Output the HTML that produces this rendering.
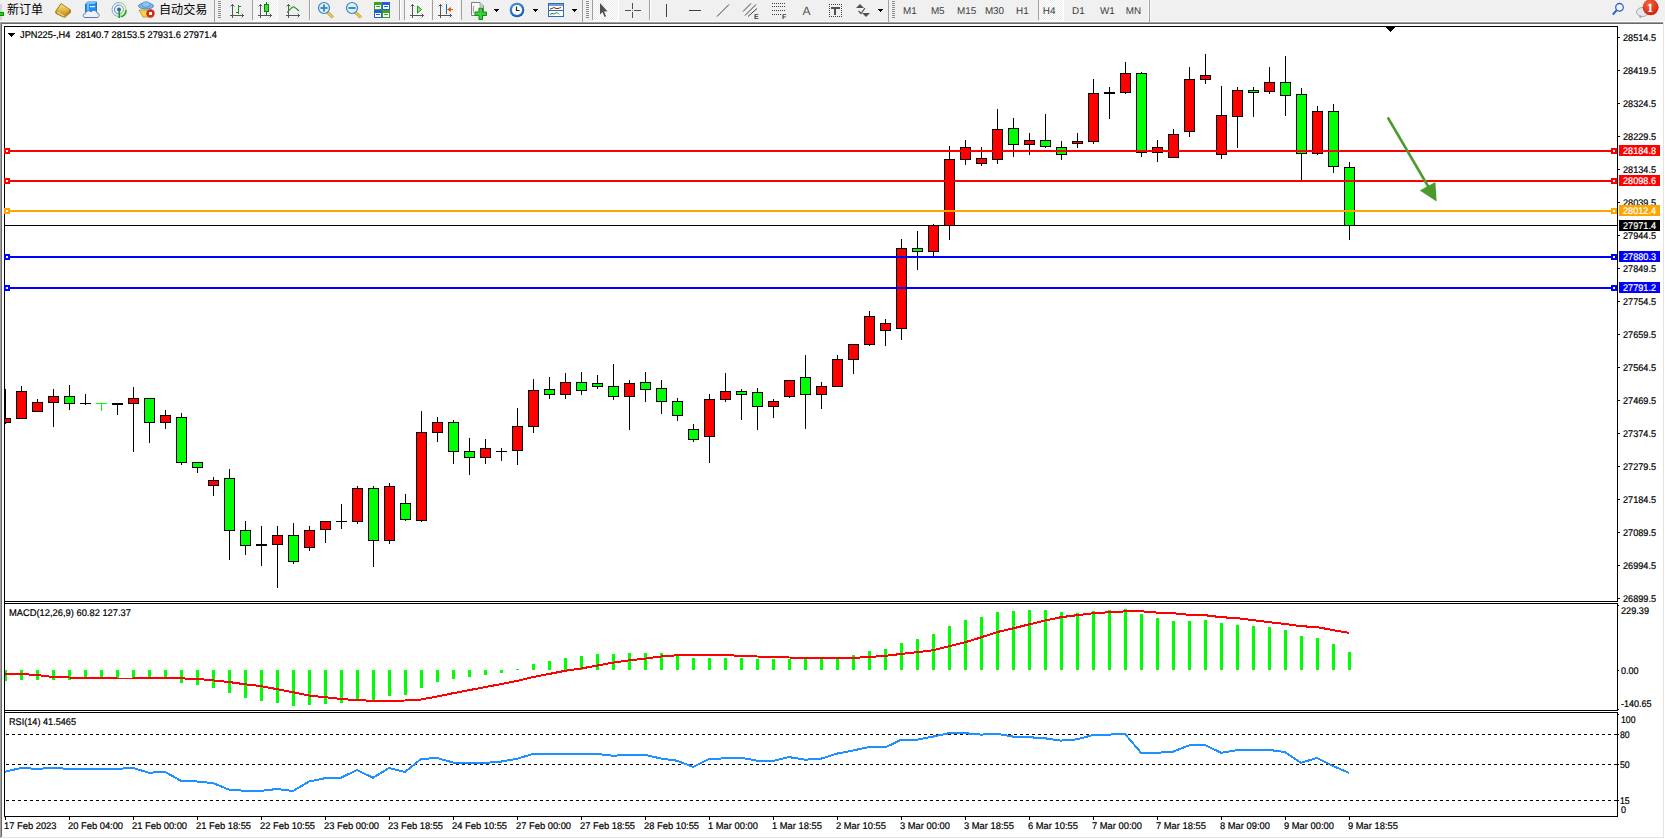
<!DOCTYPE html>
<html><head><meta charset="utf-8"><title>JPN225-,H4</title>
<style>html,body{margin:0;padding:0;background:#f0f0f0;overflow:hidden}svg{display:block}</style>
</head><body>
<svg width="1665" height="839" viewBox="0 0 1665 839" shape-rendering="crispEdges" text-rendering="geometricPrecision">
<rect x="0" y="0" width="1665" height="21" fill="#f0f0f0"/>
<rect x="0" y="21" width="1665" height="1" fill="#fafafa"/>
<rect x="0" y="22" width="1664" height="1" fill="#a0a0a0"/>
<rect x="0" y="23" width="1664" height="1" fill="#696969"/>
<rect x="0" y="22" width="1" height="815" fill="#a0a0a0"/>
<rect x="1" y="23" width="1" height="814" fill="#696969"/>
<rect x="2" y="24" width="1661" height="813" fill="#ffffff"/>
<rect x="1663" y="22" width="1" height="816" fill="#e3e3e3"/>
<rect x="0" y="837" width="1664" height="1" fill="#e3e3e3"/>
<rect x="1664" y="22" width="1" height="817" fill="#ffffff"/>
<rect x="0" y="838" width="1665" height="1" fill="#ffffff"/>
<rect x="0" y="837" width="1" height="1" fill="#a0a0a0"/>
<rect x="1" y="837" width="1" height="1" fill="#f4f4f4"/>
<rect x="4" y="26" width="1" height="791" fill="#000"/>
<rect x="1617" y="26" width="1" height="576" fill="#000"/>
<rect x="1617" y="603" width="1" height="108" fill="#000"/>
<rect x="1617" y="712" width="1" height="105" fill="#000"/>
<rect x="4" y="26" width="1614" height="1" fill="#000"/>
<rect x="4" y="601" width="1614" height="1" fill="#000"/>
<rect x="4" y="603" width="1614" height="1" fill="#000"/>
<rect x="4" y="710" width="1614" height="1" fill="#000"/>
<rect x="4" y="712" width="1614" height="1" fill="#000"/>
<rect x="4" y="816" width="1614" height="1" fill="#000"/>
<rect x="1618" y="37" width="2" height="1" fill="#000"/>
<text x="1623" y="41" font-size="9.7px" fill="#000" font-family="'Liberation Sans', Arial, sans-serif" stroke="#000" stroke-width="0.2" textLength="33.00" lengthAdjust="spacingAndGlyphs">28514.5</text>
<rect x="1618" y="70" width="2" height="1" fill="#000"/>
<text x="1623" y="74" font-size="9.7px" fill="#000" font-family="'Liberation Sans', Arial, sans-serif" stroke="#000" stroke-width="0.2" textLength="33.00" lengthAdjust="spacingAndGlyphs">28419.5</text>
<rect x="1618" y="103" width="2" height="1" fill="#000"/>
<text x="1623" y="107" font-size="9.7px" fill="#000" font-family="'Liberation Sans', Arial, sans-serif" stroke="#000" stroke-width="0.2" textLength="33.00" lengthAdjust="spacingAndGlyphs">28324.5</text>
<rect x="1618" y="136" width="2" height="1" fill="#000"/>
<text x="1623" y="140" font-size="9.7px" fill="#000" font-family="'Liberation Sans', Arial, sans-serif" stroke="#000" stroke-width="0.2" textLength="33.00" lengthAdjust="spacingAndGlyphs">28229.5</text>
<rect x="1618" y="169" width="2" height="1" fill="#000"/>
<text x="1623" y="173" font-size="9.7px" fill="#000" font-family="'Liberation Sans', Arial, sans-serif" stroke="#000" stroke-width="0.2" textLength="33.00" lengthAdjust="spacingAndGlyphs">28134.5</text>
<rect x="1618" y="202" width="2" height="1" fill="#000"/>
<text x="1623" y="206" font-size="9.7px" fill="#000" font-family="'Liberation Sans', Arial, sans-serif" stroke="#000" stroke-width="0.2" textLength="33.00" lengthAdjust="spacingAndGlyphs">28039.5</text>
<rect x="1618" y="235" width="2" height="1" fill="#000"/>
<text x="1623" y="239" font-size="9.7px" fill="#000" font-family="'Liberation Sans', Arial, sans-serif" stroke="#000" stroke-width="0.2" textLength="33.00" lengthAdjust="spacingAndGlyphs">27944.5</text>
<rect x="1618" y="268" width="2" height="1" fill="#000"/>
<text x="1623" y="272" font-size="9.7px" fill="#000" font-family="'Liberation Sans', Arial, sans-serif" stroke="#000" stroke-width="0.2" textLength="33.00" lengthAdjust="spacingAndGlyphs">27849.5</text>
<rect x="1618" y="301" width="2" height="1" fill="#000"/>
<text x="1623" y="305" font-size="9.7px" fill="#000" font-family="'Liberation Sans', Arial, sans-serif" stroke="#000" stroke-width="0.2" textLength="33.00" lengthAdjust="spacingAndGlyphs">27754.5</text>
<rect x="1618" y="334" width="2" height="1" fill="#000"/>
<text x="1623" y="338" font-size="9.7px" fill="#000" font-family="'Liberation Sans', Arial, sans-serif" stroke="#000" stroke-width="0.2" textLength="33.00" lengthAdjust="spacingAndGlyphs">27659.5</text>
<rect x="1618" y="367" width="2" height="1" fill="#000"/>
<text x="1623" y="371" font-size="9.7px" fill="#000" font-family="'Liberation Sans', Arial, sans-serif" stroke="#000" stroke-width="0.2" textLength="33.00" lengthAdjust="spacingAndGlyphs">27564.5</text>
<rect x="1618" y="400" width="2" height="1" fill="#000"/>
<text x="1623" y="404" font-size="9.7px" fill="#000" font-family="'Liberation Sans', Arial, sans-serif" stroke="#000" stroke-width="0.2" textLength="33.00" lengthAdjust="spacingAndGlyphs">27469.5</text>
<rect x="1618" y="433" width="2" height="1" fill="#000"/>
<text x="1623" y="437" font-size="9.7px" fill="#000" font-family="'Liberation Sans', Arial, sans-serif" stroke="#000" stroke-width="0.2" textLength="33.00" lengthAdjust="spacingAndGlyphs">27374.5</text>
<rect x="1618" y="466" width="2" height="1" fill="#000"/>
<text x="1623" y="470" font-size="9.7px" fill="#000" font-family="'Liberation Sans', Arial, sans-serif" stroke="#000" stroke-width="0.2" textLength="33.00" lengthAdjust="spacingAndGlyphs">27279.5</text>
<rect x="1618" y="499" width="2" height="1" fill="#000"/>
<text x="1623" y="503" font-size="9.7px" fill="#000" font-family="'Liberation Sans', Arial, sans-serif" stroke="#000" stroke-width="0.2" textLength="33.00" lengthAdjust="spacingAndGlyphs">27184.5</text>
<rect x="1618" y="532" width="2" height="1" fill="#000"/>
<text x="1623" y="536" font-size="9.7px" fill="#000" font-family="'Liberation Sans', Arial, sans-serif" stroke="#000" stroke-width="0.2" textLength="33.00" lengthAdjust="spacingAndGlyphs">27089.5</text>
<rect x="1618" y="565" width="2" height="1" fill="#000"/>
<text x="1623" y="569" font-size="9.7px" fill="#000" font-family="'Liberation Sans', Arial, sans-serif" stroke="#000" stroke-width="0.2" textLength="33.00" lengthAdjust="spacingAndGlyphs">26994.5</text>
<rect x="1618" y="598" width="2" height="1" fill="#000"/>
<text x="1623" y="602" font-size="9.7px" fill="#000" font-family="'Liberation Sans', Arial, sans-serif" stroke="#000" stroke-width="0.2" textLength="33.00" lengthAdjust="spacingAndGlyphs">26899.5</text>
<g>
<rect x="5" y="389" width="1" height="29" fill="#000"/>
<rect x="5" y="423" width="1" height="1" fill="#000"/>
<rect x="5" y="418" width="6" height="5" fill="#000"/>
<rect x="5" y="419" width="5" height="3" fill="#ff0000"/>
<rect x="21" y="386" width="1" height="5" fill="#000"/>
<rect x="16" y="391" width="11" height="28" fill="#000"/>
<rect x="17" y="392" width="9" height="26" fill="#ff0000"/>
<rect x="37" y="399" width="1" height="3" fill="#000"/>
<rect x="32" y="402" width="11" height="10" fill="#000"/>
<rect x="33" y="403" width="9" height="8" fill="#ff0000"/>
<rect x="53" y="389" width="1" height="7" fill="#000"/>
<rect x="53" y="403" width="1" height="24" fill="#000"/>
<rect x="48" y="396" width="11" height="7" fill="#000"/>
<rect x="49" y="397" width="9" height="5" fill="#ff0000"/>
<rect x="69" y="385" width="1" height="11" fill="#000"/>
<rect x="69" y="404" width="1" height="6" fill="#000"/>
<rect x="64" y="396" width="11" height="8" fill="#000"/>
<rect x="65" y="397" width="9" height="6" fill="#00ff00"/>
<rect x="85" y="394" width="1" height="11" fill="#000"/>
<rect x="80" y="403" width="11" height="1" fill="#000"/>
<rect x="101" y="403" width="1" height="8" fill="#00ff00"/>
<rect x="96" y="403" width="11" height="1" fill="#00ff00"/>
<rect x="117" y="403" width="1" height="12" fill="#000"/>
<rect x="112" y="403" width="11" height="2" fill="#000"/>
<rect x="133" y="387" width="1" height="11" fill="#000"/>
<rect x="133" y="404" width="1" height="48" fill="#000"/>
<rect x="128" y="398" width="11" height="6" fill="#000"/>
<rect x="129" y="399" width="9" height="4" fill="#ff0000"/>
<rect x="149" y="423" width="1" height="20" fill="#000"/>
<rect x="144" y="398" width="11" height="25" fill="#000"/>
<rect x="145" y="399" width="9" height="23" fill="#00ff00"/>
<rect x="165" y="410" width="1" height="5" fill="#000"/>
<rect x="165" y="423" width="1" height="6" fill="#000"/>
<rect x="160" y="415" width="11" height="8" fill="#000"/>
<rect x="161" y="416" width="9" height="6" fill="#ff0000"/>
<rect x="181" y="413" width="1" height="4" fill="#000"/>
<rect x="181" y="463" width="1" height="2" fill="#000"/>
<rect x="176" y="417" width="11" height="46" fill="#000"/>
<rect x="177" y="418" width="9" height="44" fill="#00ff00"/>
<rect x="197" y="468" width="1" height="5" fill="#000"/>
<rect x="192" y="462" width="11" height="6" fill="#000"/>
<rect x="193" y="463" width="9" height="4" fill="#00ff00"/>
<rect x="213" y="477" width="1" height="3" fill="#000"/>
<rect x="213" y="486" width="1" height="10" fill="#000"/>
<rect x="208" y="480" width="11" height="6" fill="#000"/>
<rect x="209" y="481" width="9" height="4" fill="#ff0000"/>
<rect x="229" y="469" width="1" height="9" fill="#000"/>
<rect x="229" y="531" width="1" height="29" fill="#000"/>
<rect x="224" y="478" width="11" height="53" fill="#000"/>
<rect x="225" y="479" width="9" height="51" fill="#00ff00"/>
<rect x="245" y="521" width="1" height="9" fill="#000"/>
<rect x="245" y="546" width="1" height="9" fill="#000"/>
<rect x="240" y="530" width="11" height="16" fill="#000"/>
<rect x="241" y="531" width="9" height="14" fill="#00ff00"/>
<rect x="261" y="526" width="1" height="40" fill="#000"/>
<rect x="256" y="544" width="11" height="2" fill="#000"/>
<rect x="277" y="526" width="1" height="9" fill="#000"/>
<rect x="277" y="545" width="1" height="43" fill="#000"/>
<rect x="272" y="535" width="11" height="10" fill="#000"/>
<rect x="273" y="536" width="9" height="8" fill="#ff0000"/>
<rect x="293" y="523" width="1" height="12" fill="#000"/>
<rect x="293" y="562" width="1" height="2" fill="#000"/>
<rect x="288" y="535" width="11" height="27" fill="#000"/>
<rect x="289" y="536" width="9" height="25" fill="#00ff00"/>
<rect x="309" y="526" width="1" height="4" fill="#000"/>
<rect x="309" y="548" width="1" height="3" fill="#000"/>
<rect x="304" y="530" width="11" height="18" fill="#000"/>
<rect x="305" y="531" width="9" height="16" fill="#ff0000"/>
<rect x="325" y="530" width="1" height="13" fill="#000"/>
<rect x="320" y="521" width="11" height="9" fill="#000"/>
<rect x="321" y="522" width="9" height="7" fill="#ff0000"/>
<rect x="341" y="504" width="1" height="25" fill="#000"/>
<rect x="336" y="521" width="11" height="1" fill="#000"/>
<rect x="357" y="486" width="1" height="2" fill="#000"/>
<rect x="357" y="522" width="1" height="2" fill="#000"/>
<rect x="352" y="488" width="11" height="34" fill="#000"/>
<rect x="353" y="489" width="9" height="32" fill="#ff0000"/>
<rect x="373" y="486" width="1" height="2" fill="#000"/>
<rect x="373" y="541" width="1" height="26" fill="#000"/>
<rect x="368" y="488" width="11" height="53" fill="#000"/>
<rect x="369" y="489" width="9" height="51" fill="#00ff00"/>
<rect x="389" y="483" width="1" height="3" fill="#000"/>
<rect x="389" y="541" width="1" height="3" fill="#000"/>
<rect x="384" y="486" width="11" height="55" fill="#000"/>
<rect x="385" y="487" width="9" height="53" fill="#ff0000"/>
<rect x="405" y="494" width="1" height="9" fill="#000"/>
<rect x="405" y="520" width="1" height="1" fill="#000"/>
<rect x="400" y="503" width="11" height="17" fill="#000"/>
<rect x="401" y="504" width="9" height="15" fill="#00ff00"/>
<rect x="421" y="411" width="1" height="21" fill="#000"/>
<rect x="421" y="521" width="1" height="1" fill="#000"/>
<rect x="416" y="432" width="11" height="89" fill="#000"/>
<rect x="417" y="433" width="9" height="87" fill="#ff0000"/>
<rect x="437" y="417" width="1" height="5" fill="#000"/>
<rect x="437" y="433" width="1" height="9" fill="#000"/>
<rect x="432" y="422" width="11" height="11" fill="#000"/>
<rect x="433" y="423" width="9" height="9" fill="#ff0000"/>
<rect x="453" y="420" width="1" height="2" fill="#000"/>
<rect x="453" y="452" width="1" height="12" fill="#000"/>
<rect x="448" y="422" width="11" height="30" fill="#000"/>
<rect x="449" y="423" width="9" height="28" fill="#00ff00"/>
<rect x="469" y="438" width="1" height="13" fill="#000"/>
<rect x="469" y="458" width="1" height="17" fill="#000"/>
<rect x="464" y="451" width="11" height="7" fill="#000"/>
<rect x="465" y="452" width="9" height="5" fill="#00ff00"/>
<rect x="485" y="439" width="1" height="9" fill="#000"/>
<rect x="485" y="458" width="1" height="6" fill="#000"/>
<rect x="480" y="448" width="11" height="10" fill="#000"/>
<rect x="481" y="449" width="9" height="8" fill="#ff0000"/>
<rect x="501" y="448" width="1" height="13" fill="#000"/>
<rect x="496" y="451" width="11" height="1" fill="#000"/>
<rect x="517" y="408" width="1" height="18" fill="#000"/>
<rect x="517" y="451" width="1" height="14" fill="#000"/>
<rect x="512" y="426" width="11" height="25" fill="#000"/>
<rect x="513" y="427" width="9" height="23" fill="#ff0000"/>
<rect x="533" y="379" width="1" height="11" fill="#000"/>
<rect x="533" y="427" width="1" height="6" fill="#000"/>
<rect x="528" y="390" width="11" height="37" fill="#000"/>
<rect x="529" y="391" width="9" height="35" fill="#ff0000"/>
<rect x="549" y="377" width="1" height="12" fill="#000"/>
<rect x="549" y="395" width="1" height="4" fill="#000"/>
<rect x="544" y="389" width="11" height="6" fill="#000"/>
<rect x="545" y="390" width="9" height="4" fill="#00ff00"/>
<rect x="565" y="373" width="1" height="9" fill="#000"/>
<rect x="565" y="395" width="1" height="4" fill="#000"/>
<rect x="560" y="382" width="11" height="13" fill="#000"/>
<rect x="561" y="383" width="9" height="11" fill="#ff0000"/>
<rect x="581" y="372" width="1" height="10" fill="#000"/>
<rect x="581" y="391" width="1" height="4" fill="#000"/>
<rect x="576" y="382" width="11" height="9" fill="#000"/>
<rect x="577" y="383" width="9" height="7" fill="#00ff00"/>
<rect x="597" y="375" width="1" height="8" fill="#000"/>
<rect x="597" y="387" width="1" height="2" fill="#000"/>
<rect x="592" y="383" width="11" height="4" fill="#000"/>
<rect x="593" y="384" width="9" height="2" fill="#00ff00"/>
<rect x="613" y="364" width="1" height="22" fill="#000"/>
<rect x="613" y="397" width="1" height="3" fill="#000"/>
<rect x="608" y="386" width="11" height="11" fill="#000"/>
<rect x="609" y="387" width="9" height="9" fill="#00ff00"/>
<rect x="629" y="380" width="1" height="3" fill="#000"/>
<rect x="629" y="397" width="1" height="33" fill="#000"/>
<rect x="624" y="383" width="11" height="14" fill="#000"/>
<rect x="625" y="384" width="9" height="12" fill="#ff0000"/>
<rect x="645" y="372" width="1" height="10" fill="#000"/>
<rect x="645" y="390" width="1" height="12" fill="#000"/>
<rect x="640" y="382" width="11" height="8" fill="#000"/>
<rect x="641" y="383" width="9" height="6" fill="#00ff00"/>
<rect x="661" y="380" width="1" height="8" fill="#000"/>
<rect x="661" y="402" width="1" height="12" fill="#000"/>
<rect x="656" y="388" width="11" height="14" fill="#000"/>
<rect x="657" y="389" width="9" height="12" fill="#00ff00"/>
<rect x="677" y="398" width="1" height="3" fill="#000"/>
<rect x="677" y="416" width="1" height="5" fill="#000"/>
<rect x="672" y="401" width="11" height="15" fill="#000"/>
<rect x="673" y="402" width="9" height="13" fill="#00ff00"/>
<rect x="693" y="424" width="1" height="5" fill="#000"/>
<rect x="693" y="440" width="1" height="2" fill="#000"/>
<rect x="688" y="429" width="11" height="11" fill="#000"/>
<rect x="689" y="430" width="9" height="9" fill="#00ff00"/>
<rect x="709" y="394" width="1" height="5" fill="#000"/>
<rect x="709" y="437" width="1" height="26" fill="#000"/>
<rect x="704" y="399" width="11" height="38" fill="#000"/>
<rect x="705" y="400" width="9" height="36" fill="#ff0000"/>
<rect x="725" y="373" width="1" height="18" fill="#000"/>
<rect x="725" y="400" width="1" height="2" fill="#000"/>
<rect x="720" y="391" width="11" height="9" fill="#000"/>
<rect x="721" y="392" width="9" height="7" fill="#ff0000"/>
<rect x="741" y="389" width="1" height="2" fill="#000"/>
<rect x="741" y="395" width="1" height="25" fill="#000"/>
<rect x="736" y="391" width="11" height="4" fill="#000"/>
<rect x="737" y="392" width="9" height="2" fill="#00ff00"/>
<rect x="757" y="388" width="1" height="4" fill="#000"/>
<rect x="757" y="407" width="1" height="23" fill="#000"/>
<rect x="752" y="392" width="11" height="15" fill="#000"/>
<rect x="753" y="393" width="9" height="13" fill="#00ff00"/>
<rect x="773" y="399" width="1" height="2" fill="#000"/>
<rect x="773" y="407" width="1" height="11" fill="#000"/>
<rect x="768" y="401" width="11" height="6" fill="#000"/>
<rect x="769" y="402" width="9" height="4" fill="#ff0000"/>
<rect x="789" y="397" width="1" height="1" fill="#000"/>
<rect x="784" y="380" width="11" height="17" fill="#000"/>
<rect x="785" y="381" width="9" height="15" fill="#ff0000"/>
<rect x="805" y="355" width="1" height="22" fill="#000"/>
<rect x="805" y="395" width="1" height="34" fill="#000"/>
<rect x="800" y="377" width="11" height="18" fill="#000"/>
<rect x="801" y="378" width="9" height="16" fill="#00ff00"/>
<rect x="821" y="382" width="1" height="4" fill="#000"/>
<rect x="821" y="395" width="1" height="14" fill="#000"/>
<rect x="816" y="386" width="11" height="9" fill="#000"/>
<rect x="817" y="387" width="9" height="7" fill="#ff0000"/>
<rect x="837" y="355" width="1" height="4" fill="#000"/>
<rect x="832" y="359" width="11" height="28" fill="#000"/>
<rect x="833" y="360" width="9" height="26" fill="#ff0000"/>
<rect x="853" y="360" width="1" height="14" fill="#000"/>
<rect x="848" y="344" width="11" height="16" fill="#000"/>
<rect x="849" y="345" width="9" height="14" fill="#ff0000"/>
<rect x="869" y="311" width="1" height="5" fill="#000"/>
<rect x="869" y="345" width="1" height="1" fill="#000"/>
<rect x="864" y="316" width="11" height="29" fill="#000"/>
<rect x="865" y="317" width="9" height="27" fill="#ff0000"/>
<rect x="885" y="319" width="1" height="4" fill="#000"/>
<rect x="885" y="331" width="1" height="15" fill="#000"/>
<rect x="880" y="323" width="11" height="8" fill="#000"/>
<rect x="881" y="324" width="9" height="6" fill="#ff0000"/>
<rect x="901" y="239" width="1" height="9" fill="#000"/>
<rect x="901" y="329" width="1" height="11" fill="#000"/>
<rect x="896" y="248" width="11" height="81" fill="#000"/>
<rect x="897" y="249" width="9" height="79" fill="#ff0000"/>
<rect x="917" y="231" width="1" height="17" fill="#000"/>
<rect x="917" y="252" width="1" height="18" fill="#000"/>
<rect x="912" y="248" width="11" height="4" fill="#000"/>
<rect x="913" y="249" width="9" height="2" fill="#00ff00"/>
<rect x="933" y="224" width="1" height="1" fill="#000"/>
<rect x="933" y="252" width="1" height="4" fill="#000"/>
<rect x="928" y="225" width="11" height="27" fill="#000"/>
<rect x="929" y="226" width="9" height="25" fill="#ff0000"/>
<rect x="949" y="146" width="1" height="13" fill="#000"/>
<rect x="949" y="226" width="1" height="14" fill="#000"/>
<rect x="944" y="159" width="11" height="67" fill="#000"/>
<rect x="945" y="160" width="9" height="65" fill="#ff0000"/>
<rect x="965" y="140" width="1" height="7" fill="#000"/>
<rect x="965" y="160" width="1" height="5" fill="#000"/>
<rect x="960" y="147" width="11" height="13" fill="#000"/>
<rect x="961" y="148" width="9" height="11" fill="#ff0000"/>
<rect x="981" y="147" width="1" height="11" fill="#000"/>
<rect x="981" y="164" width="1" height="2" fill="#000"/>
<rect x="976" y="158" width="11" height="6" fill="#000"/>
<rect x="977" y="159" width="9" height="4" fill="#ff0000"/>
<rect x="997" y="109" width="1" height="20" fill="#000"/>
<rect x="997" y="160" width="1" height="4" fill="#000"/>
<rect x="992" y="129" width="11" height="31" fill="#000"/>
<rect x="993" y="130" width="9" height="29" fill="#ff0000"/>
<rect x="1013" y="118" width="1" height="10" fill="#000"/>
<rect x="1013" y="145" width="1" height="12" fill="#000"/>
<rect x="1008" y="128" width="11" height="17" fill="#000"/>
<rect x="1009" y="129" width="9" height="15" fill="#00ff00"/>
<rect x="1029" y="133" width="1" height="7" fill="#000"/>
<rect x="1029" y="145" width="1" height="10" fill="#000"/>
<rect x="1024" y="140" width="11" height="5" fill="#000"/>
<rect x="1025" y="141" width="9" height="3" fill="#ff0000"/>
<rect x="1045" y="114" width="1" height="26" fill="#000"/>
<rect x="1045" y="147" width="1" height="1" fill="#000"/>
<rect x="1040" y="140" width="11" height="7" fill="#000"/>
<rect x="1041" y="141" width="9" height="5" fill="#00ff00"/>
<rect x="1061" y="141" width="1" height="6" fill="#000"/>
<rect x="1061" y="155" width="1" height="5" fill="#000"/>
<rect x="1056" y="147" width="11" height="8" fill="#000"/>
<rect x="1057" y="148" width="9" height="6" fill="#00ff00"/>
<rect x="1077" y="133" width="1" height="8" fill="#000"/>
<rect x="1077" y="144" width="1" height="4" fill="#000"/>
<rect x="1072" y="141" width="11" height="3" fill="#000"/>
<rect x="1073" y="142" width="9" height="1" fill="#ff0000"/>
<rect x="1093" y="79" width="1" height="14" fill="#000"/>
<rect x="1093" y="142" width="1" height="2" fill="#000"/>
<rect x="1088" y="93" width="11" height="49" fill="#000"/>
<rect x="1089" y="94" width="9" height="47" fill="#ff0000"/>
<rect x="1109" y="87" width="1" height="32" fill="#000"/>
<rect x="1104" y="92" width="11" height="2" fill="#000"/>
<rect x="1125" y="62" width="1" height="11" fill="#000"/>
<rect x="1125" y="93" width="1" height="1" fill="#000"/>
<rect x="1120" y="73" width="11" height="20" fill="#000"/>
<rect x="1121" y="74" width="9" height="18" fill="#ff0000"/>
<rect x="1141" y="72" width="1" height="1" fill="#000"/>
<rect x="1141" y="153" width="1" height="4" fill="#000"/>
<rect x="1136" y="73" width="11" height="80" fill="#000"/>
<rect x="1137" y="74" width="9" height="78" fill="#00ff00"/>
<rect x="1157" y="140" width="1" height="7" fill="#000"/>
<rect x="1157" y="153" width="1" height="9" fill="#000"/>
<rect x="1152" y="147" width="11" height="6" fill="#000"/>
<rect x="1153" y="148" width="9" height="4" fill="#ff0000"/>
<rect x="1173" y="129" width="1" height="5" fill="#000"/>
<rect x="1168" y="134" width="11" height="24" fill="#000"/>
<rect x="1169" y="135" width="9" height="22" fill="#ff0000"/>
<rect x="1189" y="67" width="1" height="12" fill="#000"/>
<rect x="1189" y="132" width="1" height="5" fill="#000"/>
<rect x="1184" y="79" width="11" height="53" fill="#000"/>
<rect x="1185" y="80" width="9" height="51" fill="#ff0000"/>
<rect x="1205" y="54" width="1" height="21" fill="#000"/>
<rect x="1205" y="80" width="1" height="4" fill="#000"/>
<rect x="1200" y="75" width="11" height="5" fill="#000"/>
<rect x="1201" y="76" width="9" height="3" fill="#ff0000"/>
<rect x="1221" y="86" width="1" height="29" fill="#000"/>
<rect x="1221" y="155" width="1" height="4" fill="#000"/>
<rect x="1216" y="115" width="11" height="40" fill="#000"/>
<rect x="1217" y="116" width="9" height="38" fill="#ff0000"/>
<rect x="1237" y="87" width="1" height="3" fill="#000"/>
<rect x="1237" y="117" width="1" height="31" fill="#000"/>
<rect x="1232" y="90" width="11" height="27" fill="#000"/>
<rect x="1233" y="91" width="9" height="25" fill="#ff0000"/>
<rect x="1253" y="87" width="1" height="3" fill="#000"/>
<rect x="1253" y="93" width="1" height="24" fill="#000"/>
<rect x="1248" y="90" width="11" height="3" fill="#000"/>
<rect x="1249" y="91" width="9" height="1" fill="#00ff00"/>
<rect x="1269" y="67" width="1" height="15" fill="#000"/>
<rect x="1269" y="92" width="1" height="2" fill="#000"/>
<rect x="1264" y="82" width="11" height="10" fill="#000"/>
<rect x="1265" y="83" width="9" height="8" fill="#ff0000"/>
<rect x="1285" y="56" width="1" height="26" fill="#000"/>
<rect x="1285" y="96" width="1" height="20" fill="#000"/>
<rect x="1280" y="82" width="11" height="14" fill="#000"/>
<rect x="1281" y="83" width="9" height="12" fill="#00ff00"/>
<rect x="1301" y="88" width="1" height="6" fill="#000"/>
<rect x="1301" y="154" width="1" height="26" fill="#000"/>
<rect x="1296" y="94" width="11" height="60" fill="#000"/>
<rect x="1297" y="95" width="9" height="58" fill="#00ff00"/>
<rect x="1317" y="106" width="1" height="5" fill="#000"/>
<rect x="1317" y="154" width="1" height="1" fill="#000"/>
<rect x="1312" y="111" width="11" height="43" fill="#000"/>
<rect x="1313" y="112" width="9" height="41" fill="#ff0000"/>
<rect x="1333" y="104" width="1" height="7" fill="#000"/>
<rect x="1333" y="167" width="1" height="6" fill="#000"/>
<rect x="1328" y="111" width="11" height="56" fill="#000"/>
<rect x="1329" y="112" width="9" height="54" fill="#00ff00"/>
<rect x="1349" y="162" width="1" height="5" fill="#000"/>
<rect x="1349" y="226" width="1" height="14" fill="#000"/>
<rect x="1344" y="167" width="11" height="59" fill="#000"/>
<rect x="1345" y="168" width="9" height="57" fill="#00ff00"/>
</g>
<rect x="5" y="150" width="1612" height="2" fill="#ff0000"/>
<rect x="4" y="148" width="6" height="6" fill="#ff0000"/>
<rect x="6" y="150" width="2" height="2" fill="#ffffff"/>
<rect x="1611" y="148" width="6" height="6" fill="#ff0000"/>
<rect x="1613" y="150" width="2" height="2" fill="#ffffff"/>
<rect x="1619" y="145" width="41" height="11" fill="#ff0000"/>
<text x="1623" y="154" font-size="9.7px" fill="#fff" font-family="'Liberation Sans', Arial, sans-serif" stroke="#fff" stroke-width="0.2" textLength="33.00" lengthAdjust="spacingAndGlyphs">28184.8</text>
<rect x="5" y="180" width="1612" height="2" fill="#ff0000"/>
<rect x="4" y="178" width="6" height="6" fill="#ff0000"/>
<rect x="6" y="180" width="2" height="2" fill="#ffffff"/>
<rect x="1611" y="178" width="6" height="6" fill="#ff0000"/>
<rect x="1613" y="180" width="2" height="2" fill="#ffffff"/>
<rect x="1619" y="175" width="41" height="11" fill="#ff0000"/>
<text x="1623" y="184" font-size="9.7px" fill="#fff" font-family="'Liberation Sans', Arial, sans-serif" stroke="#fff" stroke-width="0.2" textLength="33.00" lengthAdjust="spacingAndGlyphs">28098.6</text>
<rect x="5" y="210" width="1612" height="2" fill="#ffa500"/>
<rect x="4" y="208" width="6" height="6" fill="#ffa500"/>
<rect x="6" y="210" width="2" height="2" fill="#ffffff"/>
<rect x="1611" y="208" width="6" height="6" fill="#ffa500"/>
<rect x="1613" y="210" width="2" height="2" fill="#ffffff"/>
<rect x="1619" y="205" width="41" height="11" fill="#ffa500"/>
<text x="1623" y="214" font-size="9.7px" fill="#fff" font-family="'Liberation Sans', Arial, sans-serif" stroke="#fff" stroke-width="0.2" textLength="33.00" lengthAdjust="spacingAndGlyphs">28012.4</text>
<rect x="5" y="256" width="1612" height="2" fill="#0000ff"/>
<rect x="4" y="254" width="6" height="6" fill="#0000ff"/>
<rect x="6" y="256" width="2" height="2" fill="#ffffff"/>
<rect x="1611" y="254" width="6" height="6" fill="#0000ff"/>
<rect x="1613" y="256" width="2" height="2" fill="#ffffff"/>
<rect x="1619" y="251" width="41" height="11" fill="#0000ff"/>
<text x="1623" y="260" font-size="9.7px" fill="#fff" font-family="'Liberation Sans', Arial, sans-serif" stroke="#fff" stroke-width="0.2" textLength="33.00" lengthAdjust="spacingAndGlyphs">27880.3</text>
<rect x="5" y="287" width="1612" height="2" fill="#0000ff"/>
<rect x="4" y="285" width="6" height="6" fill="#0000ff"/>
<rect x="6" y="287" width="2" height="2" fill="#ffffff"/>
<rect x="1611" y="285" width="6" height="6" fill="#0000ff"/>
<rect x="1613" y="287" width="2" height="2" fill="#ffffff"/>
<rect x="1619" y="282" width="41" height="11" fill="#0000ff"/>
<text x="1623" y="291" font-size="9.7px" fill="#fff" font-family="'Liberation Sans', Arial, sans-serif" stroke="#fff" stroke-width="0.2" textLength="33.00" lengthAdjust="spacingAndGlyphs">27791.2</text>
<rect x="5" y="225" width="1612" height="1" fill="#000"/>
<rect x="1619" y="220" width="41" height="11" fill="#000"/>
<text x="1623" y="229" font-size="9.7px" fill="#fff" font-family="'Liberation Sans', Arial, sans-serif" stroke="#fff" stroke-width="0.2" textLength="33.00" lengthAdjust="spacingAndGlyphs">27971.4</text>
<polygon points="8,33 15,33 11.5,37" fill="#000"/>
<text x="20" y="38" font-size="9.7px" fill="#000" font-family="'Liberation Sans', Arial, sans-serif" stroke="#000" stroke-width="0.2" textLength="197.00" lengthAdjust="spacingAndGlyphs">JPN225-,H4&#160;&#160;28140.7 28153.5 27931.6 27971.4</text>
<polygon points="1385.5,27 1395.5,27 1390.5,32" fill="#000"/>
<g fill="#4c9a2e" shape-rendering="auto"><line x1="1387.8" y1="117.5" x2="1428.5" y2="187" stroke="#4c9a2e" stroke-width="2.5"/><polygon points="1419.8,190.5 1435.4,181.9 1436.6,201.4"/></g>
<g>
<rect x="5" y="670" width="2" height="11" fill="#00ff00"/>
<rect x="20" y="670" width="3" height="10" fill="#00ff00"/>
<rect x="36" y="670" width="3" height="10" fill="#00ff00"/>
<rect x="52" y="670" width="3" height="10" fill="#00ff00"/>
<rect x="68" y="670" width="3" height="10" fill="#00ff00"/>
<rect x="84" y="670" width="3" height="8" fill="#00ff00"/>
<rect x="100" y="670" width="3" height="8" fill="#00ff00"/>
<rect x="116" y="670" width="3" height="8" fill="#00ff00"/>
<rect x="132" y="670" width="3" height="8" fill="#00ff00"/>
<rect x="148" y="670" width="3" height="8" fill="#00ff00"/>
<rect x="164" y="670" width="3" height="8" fill="#00ff00"/>
<rect x="180" y="670" width="3" height="13" fill="#00ff00"/>
<rect x="196" y="670" width="3" height="15" fill="#00ff00"/>
<rect x="212" y="670" width="3" height="18" fill="#00ff00"/>
<rect x="228" y="670" width="3" height="23" fill="#00ff00"/>
<rect x="244" y="670" width="3" height="28" fill="#00ff00"/>
<rect x="260" y="670" width="3" height="31" fill="#00ff00"/>
<rect x="276" y="670" width="3" height="33" fill="#00ff00"/>
<rect x="292" y="670" width="3" height="36" fill="#00ff00"/>
<rect x="308" y="670" width="3" height="35" fill="#00ff00"/>
<rect x="324" y="670" width="3" height="34" fill="#00ff00"/>
<rect x="340" y="670" width="3" height="33" fill="#00ff00"/>
<rect x="356" y="670" width="3" height="31" fill="#00ff00"/>
<rect x="372" y="670" width="3" height="31" fill="#00ff00"/>
<rect x="388" y="670" width="3" height="26" fill="#00ff00"/>
<rect x="404" y="670" width="3" height="25" fill="#00ff00"/>
<rect x="420" y="670" width="3" height="18" fill="#00ff00"/>
<rect x="436" y="670" width="3" height="12" fill="#00ff00"/>
<rect x="452" y="670" width="3" height="9" fill="#00ff00"/>
<rect x="468" y="670" width="3" height="7" fill="#00ff00"/>
<rect x="484" y="670" width="3" height="5" fill="#00ff00"/>
<rect x="500" y="670" width="3" height="3" fill="#00ff00"/>
<rect x="516" y="669" width="3" height="1" fill="#00ff00"/>
<rect x="532" y="664" width="3" height="6" fill="#00ff00"/>
<rect x="548" y="661" width="3" height="9" fill="#00ff00"/>
<rect x="564" y="658" width="3" height="12" fill="#00ff00"/>
<rect x="580" y="656" width="3" height="14" fill="#00ff00"/>
<rect x="596" y="654" width="3" height="16" fill="#00ff00"/>
<rect x="612" y="654" width="3" height="16" fill="#00ff00"/>
<rect x="628" y="653" width="3" height="17" fill="#00ff00"/>
<rect x="644" y="653" width="3" height="17" fill="#00ff00"/>
<rect x="660" y="653" width="3" height="17" fill="#00ff00"/>
<rect x="676" y="656" width="3" height="14" fill="#00ff00"/>
<rect x="692" y="658" width="3" height="12" fill="#00ff00"/>
<rect x="708" y="658" width="3" height="12" fill="#00ff00"/>
<rect x="724" y="658" width="3" height="12" fill="#00ff00"/>
<rect x="740" y="658" width="3" height="12" fill="#00ff00"/>
<rect x="756" y="659" width="3" height="11" fill="#00ff00"/>
<rect x="772" y="659" width="3" height="11" fill="#00ff00"/>
<rect x="788" y="659" width="3" height="11" fill="#00ff00"/>
<rect x="804" y="659" width="3" height="11" fill="#00ff00"/>
<rect x="820" y="659" width="3" height="11" fill="#00ff00"/>
<rect x="836" y="659" width="3" height="11" fill="#00ff00"/>
<rect x="852" y="655" width="3" height="15" fill="#00ff00"/>
<rect x="868" y="651" width="3" height="19" fill="#00ff00"/>
<rect x="884" y="649" width="3" height="21" fill="#00ff00"/>
<rect x="900" y="643" width="3" height="27" fill="#00ff00"/>
<rect x="916" y="639" width="3" height="31" fill="#00ff00"/>
<rect x="932" y="634" width="3" height="36" fill="#00ff00"/>
<rect x="948" y="626" width="3" height="44" fill="#00ff00"/>
<rect x="964" y="620" width="3" height="50" fill="#00ff00"/>
<rect x="980" y="617" width="3" height="53" fill="#00ff00"/>
<rect x="996" y="612" width="3" height="58" fill="#00ff00"/>
<rect x="1012" y="611" width="3" height="59" fill="#00ff00"/>
<rect x="1028" y="610" width="3" height="60" fill="#00ff00"/>
<rect x="1044" y="610" width="3" height="60" fill="#00ff00"/>
<rect x="1060" y="612" width="3" height="58" fill="#00ff00"/>
<rect x="1076" y="613" width="3" height="57" fill="#00ff00"/>
<rect x="1092" y="611" width="3" height="59" fill="#00ff00"/>
<rect x="1108" y="610" width="3" height="60" fill="#00ff00"/>
<rect x="1124" y="609" width="3" height="61" fill="#00ff00"/>
<rect x="1140" y="614" width="3" height="56" fill="#00ff00"/>
<rect x="1156" y="618" width="3" height="52" fill="#00ff00"/>
<rect x="1172" y="621" width="3" height="49" fill="#00ff00"/>
<rect x="1188" y="621" width="3" height="49" fill="#00ff00"/>
<rect x="1204" y="620" width="3" height="50" fill="#00ff00"/>
<rect x="1220" y="623" width="3" height="47" fill="#00ff00"/>
<rect x="1236" y="625" width="3" height="45" fill="#00ff00"/>
<rect x="1252" y="626" width="3" height="44" fill="#00ff00"/>
<rect x="1268" y="627" width="3" height="43" fill="#00ff00"/>
<rect x="1284" y="630" width="3" height="40" fill="#00ff00"/>
<rect x="1300" y="636" width="3" height="34" fill="#00ff00"/>
<rect x="1316" y="638" width="3" height="32" fill="#00ff00"/>
<rect x="1332" y="644" width="3" height="26" fill="#00ff00"/>
<rect x="1348" y="652" width="3" height="18" fill="#00ff00"/>
</g>
<polyline points="5,673.5 5,673.5 21,674.0 37,675.0 53,677.0 69,677.5 85,677.8 101,678.2 117,678.5 133,678.5 149,678.3 165,677.6 181,678.4 197,678.8 213,680.4 229,682.0 245,684.3 261,686.1 277,689.2 293,692.2 309,695.5 325,697.2 341,699.0 357,700.1 373,700.8 389,700.8 405,700.5 421,699.5 437,696.5 453,693.2 469,690.2 485,687.1 501,684.1 517,681.0 533,677.0 549,674.0 565,670.8 581,668.5 597,665.6 613,662.6 629,660.4 645,658.6 661,656.5 677,655.3 693,654.9 709,654.9 725,655.1 741,655.8 757,656.5 773,656.7 789,657.5 805,657.9 821,657.9 837,657.9 853,657.9 869,657.0 885,655.8 901,654.0 917,652.2 933,650.2 949,646.2 965,642.3 981,637.4 997,632.1 1013,628.4 1029,624.4 1045,620.5 1061,617.2 1077,615.2 1093,613.2 1109,612.3 1125,611.4 1141,611.3 1157,612.6 1173,613.2 1189,614.8 1205,615.2 1221,617.2 1237,618.1 1253,620.1 1269,622.1 1285,624.0 1301,626.2 1317,627.1 1333,630.1 1349,632.8" fill="none" stroke="#ff0000" stroke-width="2" shape-rendering="crispEdges"/>
<text x="9" y="616" font-size="9.7px" fill="#000" font-family="'Liberation Sans', Arial, sans-serif" stroke="#000" stroke-width="0.2" textLength="122.00" lengthAdjust="spacingAndGlyphs">MACD(12,26,9) 60.82 127.37</text>
<text x="1621" y="614" font-size="9.7px" fill="#000" font-family="'Liberation Sans', Arial, sans-serif" stroke="#000" stroke-width="0.2" textLength="28.00" lengthAdjust="spacingAndGlyphs">229.39</text>
<text x="1621" y="674" font-size="9.7px" fill="#000" font-family="'Liberation Sans', Arial, sans-serif" stroke="#000" stroke-width="0.2" textLength="17.50" lengthAdjust="spacingAndGlyphs">0.00</text>
<text x="1621" y="707" font-size="9.7px" fill="#000" font-family="'Liberation Sans', Arial, sans-serif" stroke="#000" stroke-width="0.2" textLength="30.50" lengthAdjust="spacingAndGlyphs">-140.65</text>
<rect x="1618" y="605" width="1" height="1" fill="#000"/>
<rect x="1618" y="670" width="1" height="1" fill="#000"/>
<rect x="1618" y="709" width="1" height="1" fill="#000"/>
<line x1="6" y1="734.5" x2="1617" y2="734.5" stroke="#000" stroke-width="1" stroke-dasharray="3,3" shape-rendering="crispEdges"/>
<rect x="1618" y="734" width="1" height="1" fill="#000"/>
<line x1="6" y1="764.5" x2="1617" y2="764.5" stroke="#000" stroke-width="1" stroke-dasharray="3,3" shape-rendering="crispEdges"/>
<rect x="1618" y="764" width="1" height="1" fill="#000"/>
<line x1="6" y1="800.5" x2="1617" y2="800.5" stroke="#000" stroke-width="1" stroke-dasharray="3,3" shape-rendering="crispEdges"/>
<rect x="1618" y="800" width="1" height="1" fill="#000"/>
<polyline points="5,771.7 21,768.0 37,768.8 53,768.0 69,768.8 85,768.8 101,768.8 117,768.8 133,768.0 149,772.7 165,771.9 181,780.8 197,781.5 213,783.1 229,789.6 245,790.8 261,790.8 277,789.0 293,791.0 309,781.5 325,778.2 341,777.8 357,770.0 373,777.8 389,768.0 405,771.9 421,759.0 437,758.0 453,762.5 469,763.0 485,762.9 501,761.6 517,758.8 533,753.9 549,753.9 565,753.9 581,753.9 597,753.9 613,755.7 629,754.9 645,754.9 661,758.5 677,760.7 693,766.9 709,759.1 725,758.3 741,757.7 757,760.7 773,760.9 789,757.1 805,759.7 821,758.7 837,753.6 853,750.5 869,747.0 885,747.5 901,739.9 917,739.7 933,736.6 949,733.2 965,733.2 981,734.6 997,733.8 1013,736.6 1029,737.2 1045,738.3 1061,740.6 1077,739.4 1093,735.0 1109,734.6 1125,733.9 1141,752.8 1157,752.8 1173,751.7 1189,745.4 1205,745.0 1221,752.8 1237,750.1 1253,749.9 1269,749.9 1285,752.1 1301,762.8 1317,757.9 1333,766.1 1349,772.8" fill="none" stroke="#1e90ff" stroke-width="2" shape-rendering="crispEdges"/>
<text x="9" y="725" font-size="9.7px" fill="#000" font-family="'Liberation Sans', Arial, sans-serif" stroke="#000" stroke-width="0.2" textLength="67.00" lengthAdjust="spacingAndGlyphs">RSI(14) 41.5465</text>
<text x="1621" y="723" font-size="9.7px" fill="#000" font-family="'Liberation Sans', Arial, sans-serif" stroke="#000" stroke-width="0.2" textLength="14.50" lengthAdjust="spacingAndGlyphs">100</text>
<text x="1620" y="738" font-size="9.7px" fill="#000" font-family="'Liberation Sans', Arial, sans-serif" stroke="#000" stroke-width="0.2" textLength="9.70" lengthAdjust="spacingAndGlyphs">80</text>
<text x="1620" y="768" font-size="9.7px" fill="#000" font-family="'Liberation Sans', Arial, sans-serif" stroke="#000" stroke-width="0.2" textLength="9.70" lengthAdjust="spacingAndGlyphs">50</text>
<text x="1620" y="804" font-size="9.7px" fill="#000" font-family="'Liberation Sans', Arial, sans-serif" stroke="#000" stroke-width="0.2" textLength="9.70" lengthAdjust="spacingAndGlyphs">15</text>
<text x="1621" y="813" font-size="9.7px" fill="#000" font-family="'Liberation Sans', Arial, sans-serif" stroke="#000" stroke-width="0.2" textLength="5.00" lengthAdjust="spacingAndGlyphs">0</text>
<rect x="1618" y="714" width="1" height="1" fill="#000"/>
<rect x="5" y="817" width="1" height="3" fill="#000"/>
<text x="4" y="829" font-size="9.7px" fill="#000" font-family="'Liberation Sans', Arial, sans-serif" stroke="#000" stroke-width="0.2" textLength="52.48" lengthAdjust="spacingAndGlyphs">17 Feb 2023</text>
<rect x="69" y="817" width="1" height="3" fill="#000"/>
<text x="68" y="829" font-size="9.7px" fill="#000" font-family="'Liberation Sans', Arial, sans-serif" stroke="#000" stroke-width="0.2" textLength="55.08" lengthAdjust="spacingAndGlyphs">20 Feb 04:00</text>
<rect x="133" y="817" width="1" height="3" fill="#000"/>
<text x="132" y="829" font-size="9.7px" fill="#000" font-family="'Liberation Sans', Arial, sans-serif" stroke="#000" stroke-width="0.2" textLength="55.08" lengthAdjust="spacingAndGlyphs">21 Feb 00:00</text>
<rect x="197" y="817" width="1" height="3" fill="#000"/>
<text x="196" y="829" font-size="9.7px" fill="#000" font-family="'Liberation Sans', Arial, sans-serif" stroke="#000" stroke-width="0.2" textLength="55.08" lengthAdjust="spacingAndGlyphs">21 Feb 18:55</text>
<rect x="261" y="817" width="1" height="3" fill="#000"/>
<text x="260" y="829" font-size="9.7px" fill="#000" font-family="'Liberation Sans', Arial, sans-serif" stroke="#000" stroke-width="0.2" textLength="55.08" lengthAdjust="spacingAndGlyphs">22 Feb 10:55</text>
<rect x="325" y="817" width="1" height="3" fill="#000"/>
<text x="324" y="829" font-size="9.7px" fill="#000" font-family="'Liberation Sans', Arial, sans-serif" stroke="#000" stroke-width="0.2" textLength="55.08" lengthAdjust="spacingAndGlyphs">23 Feb 00:00</text>
<rect x="389" y="817" width="1" height="3" fill="#000"/>
<text x="388" y="829" font-size="9.7px" fill="#000" font-family="'Liberation Sans', Arial, sans-serif" stroke="#000" stroke-width="0.2" textLength="55.08" lengthAdjust="spacingAndGlyphs">23 Feb 18:55</text>
<rect x="453" y="817" width="1" height="3" fill="#000"/>
<text x="452" y="829" font-size="9.7px" fill="#000" font-family="'Liberation Sans', Arial, sans-serif" stroke="#000" stroke-width="0.2" textLength="55.08" lengthAdjust="spacingAndGlyphs">24 Feb 10:55</text>
<rect x="517" y="817" width="1" height="3" fill="#000"/>
<text x="516" y="829" font-size="9.7px" fill="#000" font-family="'Liberation Sans', Arial, sans-serif" stroke="#000" stroke-width="0.2" textLength="55.08" lengthAdjust="spacingAndGlyphs">27 Feb 00:00</text>
<rect x="581" y="817" width="1" height="3" fill="#000"/>
<text x="580" y="829" font-size="9.7px" fill="#000" font-family="'Liberation Sans', Arial, sans-serif" stroke="#000" stroke-width="0.2" textLength="55.08" lengthAdjust="spacingAndGlyphs">27 Feb 18:55</text>
<rect x="645" y="817" width="1" height="3" fill="#000"/>
<text x="644" y="829" font-size="9.7px" fill="#000" font-family="'Liberation Sans', Arial, sans-serif" stroke="#000" stroke-width="0.2" textLength="55.08" lengthAdjust="spacingAndGlyphs">28 Feb 10:55</text>
<rect x="709" y="817" width="1" height="3" fill="#000"/>
<text x="708" y="829" font-size="9.7px" fill="#000" font-family="'Liberation Sans', Arial, sans-serif" stroke="#000" stroke-width="0.2" textLength="49.88" lengthAdjust="spacingAndGlyphs">1 Mar 00:00</text>
<rect x="773" y="817" width="1" height="3" fill="#000"/>
<text x="772" y="829" font-size="9.7px" fill="#000" font-family="'Liberation Sans', Arial, sans-serif" stroke="#000" stroke-width="0.2" textLength="49.88" lengthAdjust="spacingAndGlyphs">1 Mar 18:55</text>
<rect x="837" y="817" width="1" height="3" fill="#000"/>
<text x="836" y="829" font-size="9.7px" fill="#000" font-family="'Liberation Sans', Arial, sans-serif" stroke="#000" stroke-width="0.2" textLength="49.88" lengthAdjust="spacingAndGlyphs">2 Mar 10:55</text>
<rect x="901" y="817" width="1" height="3" fill="#000"/>
<text x="900" y="829" font-size="9.7px" fill="#000" font-family="'Liberation Sans', Arial, sans-serif" stroke="#000" stroke-width="0.2" textLength="49.88" lengthAdjust="spacingAndGlyphs">3 Mar 00:00</text>
<rect x="965" y="817" width="1" height="3" fill="#000"/>
<text x="964" y="829" font-size="9.7px" fill="#000" font-family="'Liberation Sans', Arial, sans-serif" stroke="#000" stroke-width="0.2" textLength="49.88" lengthAdjust="spacingAndGlyphs">3 Mar 18:55</text>
<rect x="1029" y="817" width="1" height="3" fill="#000"/>
<text x="1028" y="829" font-size="9.7px" fill="#000" font-family="'Liberation Sans', Arial, sans-serif" stroke="#000" stroke-width="0.2" textLength="49.88" lengthAdjust="spacingAndGlyphs">6 Mar 10:55</text>
<rect x="1093" y="817" width="1" height="3" fill="#000"/>
<text x="1092" y="829" font-size="9.7px" fill="#000" font-family="'Liberation Sans', Arial, sans-serif" stroke="#000" stroke-width="0.2" textLength="49.88" lengthAdjust="spacingAndGlyphs">7 Mar 00:00</text>
<rect x="1157" y="817" width="1" height="3" fill="#000"/>
<text x="1156" y="829" font-size="9.7px" fill="#000" font-family="'Liberation Sans', Arial, sans-serif" stroke="#000" stroke-width="0.2" textLength="49.88" lengthAdjust="spacingAndGlyphs">7 Mar 18:55</text>
<rect x="1221" y="817" width="1" height="3" fill="#000"/>
<text x="1220" y="829" font-size="9.7px" fill="#000" font-family="'Liberation Sans', Arial, sans-serif" stroke="#000" stroke-width="0.2" textLength="49.88" lengthAdjust="spacingAndGlyphs">8 Mar 09:00</text>
<rect x="1285" y="817" width="1" height="3" fill="#000"/>
<text x="1284" y="829" font-size="9.7px" fill="#000" font-family="'Liberation Sans', Arial, sans-serif" stroke="#000" stroke-width="0.2" textLength="49.88" lengthAdjust="spacingAndGlyphs">9 Mar 00:00</text>
<rect x="1349" y="817" width="1" height="3" fill="#000"/>
<text x="1348" y="829" font-size="9.7px" fill="#000" font-family="'Liberation Sans', Arial, sans-serif" stroke="#000" stroke-width="0.2" textLength="49.88" lengthAdjust="spacingAndGlyphs">9 Mar 18:55</text>
<defs><pattern id="chk" width="2" height="2" patternUnits="userSpaceOnUse"><rect width="2" height="2" fill="#ffffff"/><rect width="1" height="1" fill="#ebebeb"/><rect x="1" y="1" width="1" height="1" fill="#ebebeb"/></pattern><radialGradient id="clk" cx="0.45" cy="0.4" r="0.6"><stop offset="0" stop-color="#7cc0f4"/><stop offset="1" stop-color="#0a58b8"/></radialGradient><linearGradient id="gold" x1="0" y1="0" x2="0" y2="1"><stop offset="0" stop-color="#fbe37a"/><stop offset="1" stop-color="#c89018"/></linearGradient><radialGradient id="badge" cx="0.4" cy="0.3" r="0.7"><stop offset="0" stop-color="#f06a40"/><stop offset="1" stop-color="#d42010"/></radialGradient></defs>
<rect x="0" y="4" width="2" height="16" fill="#d4d4d4"/>
<rect x="0" y="12" width="4" height="4" fill="#0a8a0a"/>
<rect x="0" y="13" width="3" height="2" fill="#10e010"/>
<text x="7" y="14" font-size="12px" fill="#000" font-family="'Liberation Sans', 'Noto Sans CJK SC', 'WenQuanYi Zen Hei', sans-serif" text-rendering="optimizeSpeed" textLength="36" lengthAdjust="spacingAndGlyphs">新订单</text>
<g shape-rendering="auto"><polygon points="55.5,11.5 61,3.5 70.5,10 70.5,12.5 64.5,17.5 56,13.5" fill="#c08a1c" stroke="#9a6a10" stroke-width="0.8"/><polygon points="56.5,11 61.2,4.3 69.5,9.8 64.5,15.5" fill="url(#gold)"/><polygon points="57.5,11.5 64.5,15.5 64.5,17 57,13" fill="#f0d070"/></g>
<g shape-rendering="auto"><polygon points="85.5,4 88,2 96.5,2 96.5,12 85.5,12" fill="#1e8ef0" stroke="#1060c0" stroke-width="0.8"/><polygon points="85.5,4 88,2 96.5,2 94,4" fill="#7cc4ff"/><line x1="88" y1="4" x2="88" y2="11" stroke="#c8e8ff" stroke-width="1"/><rect x="90" y="6" width="5" height="1.2" fill="#e8f4ff"/><path d="M85,17.5 C82.5,17.5 82.5,13.5 85.5,13.5 C86,10.5 89.5,10 91,12 C92.5,9.5 96.5,10 97,12.8 C99.8,12.8 99.8,17.5 97,17.5 Z" fill="#eef2fa" stroke="#5a78b0" stroke-width="1"/></g>
<g shape-rendering="auto" fill="none"><path d="M119,2.5 A7,7 0 0 0 119,16.5" stroke="#7aa8e0" stroke-width="1"/><path d="M119,5 A4.5,4.5 0 0 0 119,14" stroke="#4a80d0" stroke-width="1"/><path d="M119,2.5 A7,7 0 0 1 119,16.5" stroke="#98c898" stroke-width="1"/><path d="M119,5 A4.5,4.5 0 0 1 119,14" stroke="#70b070" stroke-width="1"/><path d="M121,16.8 A7,7 0 0 0 126,10" stroke="#30a030" stroke-width="1.6"/><circle cx="119" cy="9.5" r="2" fill="#2a60d0"/><path d="M119.3,10 L119.3,18" stroke="#18a018" stroke-width="1.6"/></g>
<g shape-rendering="auto"><polygon points="139,10 152,10 149,17 143,17" fill="#f4d24a" stroke="#b89020" stroke-width="0.8"/><ellipse cx="146" cy="6" rx="7.5" ry="3" fill="#7ab8e8" stroke="#3a78b8" stroke-width="0.8"/><ellipse cx="146" cy="4.5" rx="4" ry="2.8" fill="#8cc8f0" stroke="#3a78b8" stroke-width="0.6"/><circle cx="150.5" cy="13.5" r="4.2" fill="#d82818"/><rect x="149" y="12" width="3" height="3" fill="#ffffff"/></g>
<text x="159" y="14" font-size="12px" fill="#000" font-family="'Liberation Sans', 'Noto Sans CJK SC', 'WenQuanYi Zen Hei', sans-serif" text-rendering="optimizeSpeed" textLength="48.5" lengthAdjust="spacingAndGlyphs">自动交易</text>
<rect x="214" y="0" width="1" height="22" fill="#a0a0a0"/>
<rect x="218" y="1" width="3" height="1" fill="#8c8c8c"/>
<rect x="218" y="3" width="3" height="1" fill="#8c8c8c"/>
<rect x="218" y="5" width="3" height="1" fill="#8c8c8c"/>
<rect x="218" y="7" width="3" height="1" fill="#8c8c8c"/>
<rect x="218" y="9" width="3" height="1" fill="#8c8c8c"/>
<rect x="218" y="11" width="3" height="1" fill="#8c8c8c"/>
<rect x="218" y="13" width="3" height="1" fill="#8c8c8c"/>
<rect x="218" y="15" width="3" height="1" fill="#8c8c8c"/>
<rect x="218" y="17" width="3" height="1" fill="#8c8c8c"/>
<rect x="232" y="5" width="1" height="13" fill="#555"/>
<rect x="231" y="5" width="3" height="1" fill="#555"/>
<rect x="230" y="6" width="1" height="1" fill="#b8b8b8"/>
<rect x="234" y="6" width="1" height="1" fill="#b8b8b8"/>
<rect x="232" y="4" width="1" height="1" fill="#555"/>
<rect x="230" y="15" width="14" height="1" fill="#555"/>
<rect x="242" y="14" width="1" height="3" fill="#555"/>
<rect x="241" y="13" width="1" height="1" fill="#b8b8b8"/>
<rect x="241" y="17" width="1" height="1" fill="#b8b8b8"/>
<rect x="243" y="15" width="1" height="1" fill="#555"/>
<rect x="238" y="5" width="1" height="9" fill="#1a8a1a"/>
<rect x="239" y="6" width="2" height="1" fill="#1a8a1a"/>
<rect x="236" y="12" width="2" height="1" fill="#1a8a1a"/>
<rect x="252" y="0" width="1" height="20" fill="#a0a0a0"/>
<rect x="253" y="0" width="1" height="20" fill="#ffffff"/>
<rect x="253" y="0" width="24" height="20" fill="url(#chk)"/>
<rect x="277" y="0" width="1" height="21" fill="#ffffff"/>
<rect x="253" y="20" width="25" height="1" fill="#ffffff"/>
<rect x="260" y="5" width="1" height="13" fill="#555"/>
<rect x="259" y="5" width="3" height="1" fill="#555"/>
<rect x="258" y="6" width="1" height="1" fill="#b8b8b8"/>
<rect x="262" y="6" width="1" height="1" fill="#b8b8b8"/>
<rect x="260" y="4" width="1" height="1" fill="#555"/>
<rect x="258" y="15" width="14" height="1" fill="#555"/>
<rect x="270" y="14" width="1" height="3" fill="#555"/>
<rect x="269" y="13" width="1" height="1" fill="#b8b8b8"/>
<rect x="269" y="17" width="1" height="1" fill="#b8b8b8"/>
<rect x="271" y="15" width="1" height="1" fill="#555"/>
<rect x="266" y="2" width="1" height="13" fill="#108010"/>
<rect x="264.5" y="4.5" width="4" height="7" fill="#3ee03e" stroke="#108010" stroke-width="1"/>
<rect x="288" y="5" width="1" height="13" fill="#555"/>
<rect x="287" y="5" width="3" height="1" fill="#555"/>
<rect x="286" y="6" width="1" height="1" fill="#b8b8b8"/>
<rect x="290" y="6" width="1" height="1" fill="#b8b8b8"/>
<rect x="288" y="4" width="1" height="1" fill="#555"/>
<rect x="286" y="15" width="14" height="1" fill="#555"/>
<rect x="298" y="14" width="1" height="3" fill="#555"/>
<rect x="297" y="13" width="1" height="1" fill="#b8b8b8"/>
<rect x="297" y="17" width="1" height="1" fill="#b8b8b8"/>
<rect x="299" y="15" width="1" height="1" fill="#555"/>
<path d="M287,12.5 C290,10 292,6 294,7 C296,8 298,10 299,11" fill="none" stroke="#2a9a2a" stroke-width="1.2" shape-rendering="auto"/>
<rect x="309" y="0" width="1" height="20" fill="#a0a0a0"/>
<rect x="310" y="0" width="1" height="20" fill="#ffffff"/>
<g shape-rendering="auto"><line x1="327" y1="12" x2="333" y2="17.5" stroke="#b89020" stroke-width="3"/><line x1="327" y1="12" x2="333" y2="17.5" stroke="#f0d860" stroke-width="1.5"/><circle cx="324" cy="8" r="5.5" fill="#d8f0fc" stroke="#3a80c8" stroke-width="1.2"/><rect x="320.5" y="7" width="7" height="2" fill="#4a88b0"/><rect x="323" y="4.5" width="2" height="7" fill="#4a88b0"/></g>
<g shape-rendering="auto"><line x1="355" y1="12" x2="361" y2="17.5" stroke="#b89020" stroke-width="3"/><line x1="355" y1="12" x2="361" y2="17.5" stroke="#f0d860" stroke-width="1.5"/><circle cx="352" cy="8" r="5.5" fill="#d8f0fc" stroke="#3a80c8" stroke-width="1.2"/><rect x="348.5" y="7" width="7" height="2" fill="#4a88b0"/></g>
<rect x="374" y="2" width="8" height="8" fill="#3aa028"/>
<rect x="375" y="5" width="6" height="4" fill="#ffffff"/>
<rect x="376" y="6" width="4" height="1" fill="#3aa028"/>
<rect x="382" y="2" width="8" height="8" fill="#1e5ed8"/>
<rect x="383" y="5" width="6" height="4" fill="#ffffff"/>
<rect x="384" y="6" width="4" height="1" fill="#1e5ed8"/>
<rect x="374" y="10" width="8" height="8" fill="#1e5ed8"/>
<rect x="375" y="13" width="6" height="4" fill="#ffffff"/>
<rect x="376" y="14" width="4" height="1" fill="#1e5ed8"/>
<rect x="382" y="10" width="8" height="8" fill="#3aa028"/>
<rect x="383" y="13" width="6" height="4" fill="#ffffff"/>
<rect x="384" y="14" width="4" height="1" fill="#3aa028"/>
<rect x="399" y="0" width="1" height="20" fill="#a0a0a0"/>
<rect x="400" y="0" width="1" height="20" fill="#ffffff"/>
<rect x="404" y="0" width="1" height="20" fill="#a0a0a0"/>
<rect x="405" y="0" width="25" height="20" fill="url(#chk)"/>
<rect x="430" y="0" width="1" height="21" fill="#ffffff"/>
<rect x="405" y="20" width="26" height="1" fill="#ffffff"/>
<rect x="412" y="5" width="1" height="13" fill="#555"/>
<rect x="411" y="5" width="3" height="1" fill="#555"/>
<rect x="410" y="6" width="1" height="1" fill="#b8b8b8"/>
<rect x="414" y="6" width="1" height="1" fill="#b8b8b8"/>
<rect x="412" y="4" width="1" height="1" fill="#555"/>
<rect x="410" y="15" width="14" height="1" fill="#555"/>
<rect x="422" y="14" width="1" height="3" fill="#555"/>
<rect x="421" y="13" width="1" height="1" fill="#b8b8b8"/>
<rect x="421" y="17" width="1" height="1" fill="#b8b8b8"/>
<rect x="423" y="15" width="1" height="1" fill="#555"/>
<polygon points="417.5,6 417.5,13 421.5,9.5" fill="#8ee08e" stroke="#1a9a1a" stroke-width="1" shape-rendering="auto"/>
<rect x="432" y="0" width="1" height="20" fill="#a0a0a0"/>
<rect x="433" y="0" width="1" height="20" fill="#ffffff"/>
<rect x="433" y="0" width="25" height="20" fill="url(#chk)"/>
<rect x="458" y="0" width="1" height="21" fill="#ffffff"/>
<rect x="433" y="20" width="26" height="1" fill="#ffffff"/>
<rect x="440" y="5" width="1" height="13" fill="#555"/>
<rect x="439" y="5" width="3" height="1" fill="#555"/>
<rect x="438" y="6" width="1" height="1" fill="#b8b8b8"/>
<rect x="442" y="6" width="1" height="1" fill="#b8b8b8"/>
<rect x="440" y="4" width="1" height="1" fill="#555"/>
<rect x="438" y="15" width="14" height="1" fill="#555"/>
<rect x="450" y="14" width="1" height="3" fill="#555"/>
<rect x="449" y="13" width="1" height="1" fill="#b8b8b8"/>
<rect x="449" y="17" width="1" height="1" fill="#b8b8b8"/>
<rect x="451" y="15" width="1" height="1" fill="#555"/>
<rect x="446" y="4" width="1" height="10" fill="#1a6ab0"/>
<polygon points="447,9.5 451,7 451,12" fill="#e05a10" shape-rendering="auto"/>
<rect x="450" y="9" width="3" height="1" fill="#e05a10"/>
<rect x="461" y="0" width="1" height="20" fill="#a0a0a0"/>
<g shape-rendering="auto"><path d="M471.5,2.5 L480,2.5 L483.5,6 L483.5,15.5 L471.5,15.5 Z" fill="#fafafa" stroke="#808080" stroke-width="1"/><path d="M480,2.5 L480,6 L483.5,6" fill="#e0e0e0" stroke="#909090" stroke-width="0.8"/><path d="M474,6 C473,8 473,11 474,13" fill="none" stroke="#909080" stroke-width="1"/><path d="M479,8 h3.5 v4 h4 v3.5 h-4 v4 h-3.5 v-4 h-4 v-3.5 h4 z" fill="#3ad03a" stroke="#0e8a0e" stroke-width="1"/></g>
<polygon points="493,9 499,9 496,12" fill="#000"/>
<g shape-rendering="auto"><circle cx="517" cy="10" r="7.3" fill="url(#clk)"/><circle cx="517" cy="10" r="5" fill="#ffffff"/><path d="M516.5,6.5 L516.5,10.5 L519.5,10.5" fill="none" stroke="#202020" stroke-width="1.2"/></g>
<polygon points="532,9 538,9 535,12" fill="#000"/>
<g shape-rendering="auto"><rect x="548.5" y="3.5" width="15" height="13" fill="#ffffff" stroke="#2a6ac0" stroke-width="1"/><rect x="549" y="4" width="14" height="2" fill="#6aa0e0"/><line x1="549" y1="10.5" x2="563" y2="10.5" stroke="#2a6ac0" stroke-width="1"/><polyline points="550,9 552,8.5 554,7.5 556,8.5 558,8.5 561,7.5" fill="none" stroke="#a02010" stroke-width="1"/><polyline points="550,14.5 552,13.5 554,14 556,13 557,12.5 559,14.5" fill="none" stroke="#209020" stroke-width="1"/></g>
<polygon points="571,9 577,9 574,12" fill="#000"/>
<rect x="582" y="0" width="1" height="22" fill="#a0a0a0"/>
<rect x="586" y="1" width="3" height="1" fill="#8c8c8c"/>
<rect x="586" y="3" width="3" height="1" fill="#8c8c8c"/>
<rect x="586" y="5" width="3" height="1" fill="#8c8c8c"/>
<rect x="586" y="7" width="3" height="1" fill="#8c8c8c"/>
<rect x="586" y="9" width="3" height="1" fill="#8c8c8c"/>
<rect x="586" y="11" width="3" height="1" fill="#8c8c8c"/>
<rect x="586" y="13" width="3" height="1" fill="#8c8c8c"/>
<rect x="586" y="15" width="3" height="1" fill="#8c8c8c"/>
<rect x="586" y="17" width="3" height="1" fill="#8c8c8c"/>
<rect x="592" y="0" width="1" height="20" fill="#a0a0a0"/>
<rect x="593" y="0" width="25" height="20" fill="url(#chk)"/>
<rect x="618" y="0" width="1" height="21" fill="#ffffff"/>
<rect x="593" y="20" width="26" height="1" fill="#ffffff"/>
<polygon points="600,3 600,14.5 602.5,12 604.5,17 606,16.3 604,11.5 607.5,11.2" fill="#505050" shape-rendering="auto"/>
<rect x="632" y="3" width="1" height="6" fill="#505050"/>
<rect x="632" y="12" width="1" height="6" fill="#505050"/>
<rect x="625" y="10" width="6" height="1" fill="#505050"/>
<rect x="634" y="10" width="7" height="1" fill="#505050"/>
<rect x="632" y="10" width="1" height="1" fill="#808080"/>
<rect x="649" y="0" width="1" height="20" fill="#a0a0a0"/>
<rect x="650" y="0" width="1" height="20" fill="#ffffff"/>
<rect x="666" y="4" width="1" height="13" fill="#404040"/>
<rect x="689" y="10" width="12" height="1" fill="#404040"/>
<line x1="717" y1="16.5" x2="729" y2="4.5" stroke="#404040" stroke-width="1" shape-rendering="auto"/>
<g shape-rendering="auto" stroke="#404040" stroke-width="1"><line x1="743" y1="11.5" x2="751" y2="3.5"/><line x1="745" y1="15.5" x2="756" y2="4.5"/><line x1="748" y1="16.5" x2="757" y2="8.5"/></g>
<text x="754" y="19" font-size="7px" font-weight="bold" fill="#404040" font-family="'Liberation Sans', Arial, sans-serif">E</text>
<rect x="772" y="3" width="1" height="1" fill="#404040"/>
<rect x="774" y="3" width="1" height="1" fill="#404040"/>
<rect x="776" y="3" width="1" height="1" fill="#404040"/>
<rect x="778" y="3" width="1" height="1" fill="#404040"/>
<rect x="780" y="3" width="1" height="1" fill="#404040"/>
<rect x="782" y="3" width="1" height="1" fill="#404040"/>
<rect x="784" y="3" width="1" height="1" fill="#404040"/>
<rect x="772" y="6" width="1" height="1" fill="#404040"/>
<rect x="774" y="6" width="1" height="1" fill="#404040"/>
<rect x="776" y="6" width="1" height="1" fill="#404040"/>
<rect x="778" y="6" width="1" height="1" fill="#404040"/>
<rect x="780" y="6" width="1" height="1" fill="#404040"/>
<rect x="782" y="6" width="1" height="1" fill="#404040"/>
<rect x="784" y="6" width="1" height="1" fill="#404040"/>
<rect x="772" y="10" width="1" height="1" fill="#404040"/>
<rect x="774" y="10" width="1" height="1" fill="#404040"/>
<rect x="776" y="10" width="1" height="1" fill="#404040"/>
<rect x="778" y="10" width="1" height="1" fill="#404040"/>
<rect x="780" y="10" width="1" height="1" fill="#404040"/>
<rect x="782" y="10" width="1" height="1" fill="#404040"/>
<rect x="784" y="10" width="1" height="1" fill="#404040"/>
<rect x="772" y="14" width="1" height="1" fill="#404040"/>
<rect x="774" y="14" width="1" height="1" fill="#404040"/>
<rect x="776" y="14" width="1" height="1" fill="#404040"/>
<rect x="778" y="14" width="1" height="1" fill="#404040"/>
<rect x="780" y="14" width="1" height="1" fill="#404040"/>
<text x="782" y="19" font-size="7px" font-weight="bold" fill="#404040" font-family="'Liberation Sans', Arial, sans-serif">F</text>
<text x="802.5" y="15" font-size="12px" fill="#505050" font-family="'Liberation Sans', Arial, sans-serif">A</text>
<rect x="829" y="4" width="1" height="1" fill="#404040"/>
<rect x="829" y="16" width="1" height="1" fill="#404040"/>
<rect x="831" y="4" width="1" height="1" fill="#404040"/>
<rect x="831" y="16" width="1" height="1" fill="#404040"/>
<rect x="833" y="4" width="1" height="1" fill="#404040"/>
<rect x="833" y="16" width="1" height="1" fill="#404040"/>
<rect x="835" y="4" width="1" height="1" fill="#404040"/>
<rect x="835" y="16" width="1" height="1" fill="#404040"/>
<rect x="837" y="4" width="1" height="1" fill="#404040"/>
<rect x="837" y="16" width="1" height="1" fill="#404040"/>
<rect x="839" y="4" width="1" height="1" fill="#404040"/>
<rect x="839" y="16" width="1" height="1" fill="#404040"/>
<rect x="841" y="4" width="1" height="1" fill="#404040"/>
<rect x="841" y="16" width="1" height="1" fill="#404040"/>
<rect x="829" y="4" width="1" height="1" fill="#404040"/>
<rect x="841" y="4" width="1" height="1" fill="#404040"/>
<rect x="829" y="6" width="1" height="1" fill="#404040"/>
<rect x="841" y="6" width="1" height="1" fill="#404040"/>
<rect x="829" y="8" width="1" height="1" fill="#404040"/>
<rect x="841" y="8" width="1" height="1" fill="#404040"/>
<rect x="829" y="10" width="1" height="1" fill="#404040"/>
<rect x="841" y="10" width="1" height="1" fill="#404040"/>
<rect x="829" y="12" width="1" height="1" fill="#404040"/>
<rect x="841" y="12" width="1" height="1" fill="#404040"/>
<rect x="829" y="14" width="1" height="1" fill="#404040"/>
<rect x="841" y="14" width="1" height="1" fill="#404040"/>
<rect x="829" y="16" width="1" height="1" fill="#404040"/>
<rect x="841" y="16" width="1" height="1" fill="#404040"/>
<rect x="831" y="7" width="9" height="2" fill="#505050"/>
<rect x="834" y="7" width="2" height="8" fill="#505050"/>
<g shape-rendering="auto" fill="#505050"><polygon points="856,8 860,4 864,8"/><polygon points="862,13 870,13 866,17"/><polyline points="858.5,11 861,13.5 865,8" fill="none" stroke="#505050" stroke-width="1.2"/></g>
<polygon points="877,9 883,9 880,12" fill="#000"/>
<rect x="888" y="0" width="1" height="22" fill="#a0a0a0"/>
<rect x="892" y="1" width="3" height="1" fill="#8c8c8c"/>
<rect x="892" y="3" width="3" height="1" fill="#8c8c8c"/>
<rect x="892" y="5" width="3" height="1" fill="#8c8c8c"/>
<rect x="892" y="7" width="3" height="1" fill="#8c8c8c"/>
<rect x="892" y="9" width="3" height="1" fill="#8c8c8c"/>
<rect x="892" y="11" width="3" height="1" fill="#8c8c8c"/>
<rect x="892" y="13" width="3" height="1" fill="#8c8c8c"/>
<rect x="892" y="15" width="3" height="1" fill="#8c8c8c"/>
<rect x="892" y="17" width="3" height="1" fill="#8c8c8c"/>
<text x="903" y="14" font-size="9.9px" fill="#3c3c3c" font-family="'Liberation Sans', Arial, sans-serif">M1</text>
<text x="930.9" y="14" font-size="9.9px" fill="#3c3c3c" font-family="'Liberation Sans', Arial, sans-serif">M5</text>
<text x="957" y="14" font-size="9.9px" fill="#3c3c3c" font-family="'Liberation Sans', Arial, sans-serif">M15</text>
<text x="984.9" y="14" font-size="9.9px" fill="#3c3c3c" font-family="'Liberation Sans', Arial, sans-serif">M30</text>
<text x="1016" y="14" font-size="9.9px" fill="#3c3c3c" font-family="'Liberation Sans', Arial, sans-serif">H1</text>
<rect x="1038" y="0" width="1" height="20" fill="#a0a0a0"/>
<rect x="1039" y="0" width="24" height="20" fill="url(#chk)"/>
<rect x="1063" y="0" width="1" height="21" fill="#ffffff"/>
<rect x="1039" y="20" width="25" height="1" fill="#ffffff"/>
<text x="1042.8" y="14" font-size="9.9px" fill="#3c3c3c" font-family="'Liberation Sans', Arial, sans-serif">H4</text>
<text x="1072.1" y="14" font-size="9.9px" fill="#3c3c3c" font-family="'Liberation Sans', Arial, sans-serif">D1</text>
<text x="1100" y="14" font-size="9.9px" fill="#3c3c3c" font-family="'Liberation Sans', Arial, sans-serif">W1</text>
<text x="1125.7" y="14" font-size="9.9px" fill="#3c3c3c" font-family="'Liberation Sans', Arial, sans-serif">MN</text>
<rect x="1148" y="0" width="1" height="21" fill="#fafafa"/>
<rect x="1149" y="0" width="1" height="22" fill="#a0a0a0"/>
<rect x="1150" y="0" width="1" height="21" fill="#fafafa"/>
<g shape-rendering="auto"><circle cx="1619.5" cy="7.3" r="3.8" fill="#f4f6ff" stroke="#2a62d0" stroke-width="1.3"/><line x1="1616.5" y1="10.3" x2="1612.8" y2="14.6" stroke="#2a5cd0" stroke-width="2"/></g>
<g shape-rendering="auto"><ellipse cx="1642.5" cy="12" rx="6" ry="4.5" fill="#e6e6ee" stroke="#a8a8a8" stroke-width="1"/><polygon points="1639,15.5 1640,18.5 1642.5,16" fill="#a0a0a0"/><circle cx="1650.6" cy="7.3" r="8" fill="url(#badge)"/></g>
<text x="1650.2" y="12.2" font-size="12.5px" font-weight="bold" text-anchor="middle" fill="#ffffff" font-family="'Liberation Serif', serif">1</text>
</svg>
</body></html>
